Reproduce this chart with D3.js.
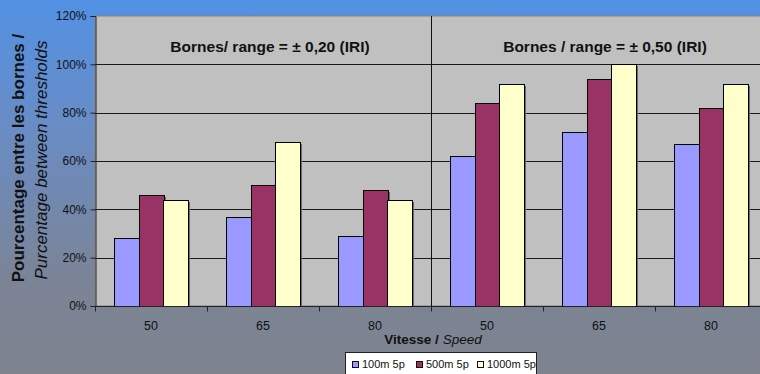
<!DOCTYPE html>
<html>
<head>
<meta charset="utf-8">
<script src="https://cdn.jsdelivr.net/npm/d3@7"></script>
<style>
  html, body { margin: 0; padding: 0; overflow: hidden; }
  svg { display: block; font-family: "Liberation Sans", Arial, sans-serif; }
</style>
</head>
<body>
<svg id="chart" width="760" height="374"></svg>
<script>
// Speed categories (two threshold groups of three speeds each)
const categories = ["50", "65", "80", "50 ", "65 ", "80 "];
const seriesNames = ["100m 5p", "500m 5p", "1000m 5p"];
const values100 = [28, 37, 29, 62, 72, 67];
const values500 = [46, 50, 48, 84, 94, 82];
const values1000 = [44, 68, 44, 92, 100, 92];
const yTicks = [0, 20, 40, 60, 80, 100, 120];
const rangeLabels = ["Bornes/ range = \u00b1 0,20 (IRI)", "Bornes / range = \u00b1 0,50 (IRI)"];

const seriesValues = [values100, values500, values1000];
const colors = ["#9999ff", "#993366", "#ffffcc"];

const svg = d3.select("#chart");
const W = 760, H = 374;
const m = { left: 95, right: 767, top: 16, bottom: 306 };

// Background gradient
const defs = svg.append("defs");
const grad = defs.append("linearGradient").attr("id", "bg")
  .attr("x1", 0).attr("y1", 0).attr("x2", 0).attr("y2", 1);
grad.append("stop").attr("offset", "0%").attr("stop-color", "#5291e4");
grad.append("stop").attr("offset", "35%").attr("stop-color", "#6a8cc4");
grad.append("stop").attr("offset", "75%").attr("stop-color", "#7b8496");
grad.append("stop").attr("offset", "100%").attr("stop-color", "#7e838e");
svg.append("rect").attr("width", W).attr("height", H).attr("fill", "url(#bg)");

defs.append("clipPath").attr("id", "plotclip").append("rect")
  .attr("x", m.left).attr("y", m.top).attr("width", m.right - m.left).attr("height", m.bottom - m.top);

const x0 = d3.scaleBand().domain(categories).range([m.left, m.right]).padding(0);
const step = x0.bandwidth();
const gap = step * 1.5 / 4.5;
const x1 = d3.scaleBand().domain(d3.range(3)).range([gap / 2, step - gap / 2]).padding(0);
const y = d3.scaleLinear().domain([0, 120]).range([m.bottom, m.top]);

// Plot area
svg.append("rect").attr("x", m.left).attr("y", m.top)
  .attr("width", m.right - m.left).attr("height", m.bottom - m.top)
  .attr("fill", "#c0c0c0").attr("stroke", "#808080").attr("stroke-width", 1);

// Gridlines
svg.append("g").selectAll("line").data(yTicks.filter(t => t > 0 && t < 120)).join("line")
  .attr("x1", m.left).attr("x2", m.right)
  .attr("y1", d => Math.round(y(d)) + 0.5).attr("y2", d => Math.round(y(d)) + 0.5)
  .attr("stroke", "#1a1a1a").attr("stroke-width", 1);

// Divider between the two threshold groups
const divX = Math.round(x0(categories[3])) + 0.5;
svg.append("line").attr("x1", divX).attr("x2", divX).attr("y1", m.top).attr("y2", m.bottom)
  .attr("stroke", "#111").attr("stroke-width", 1);

// Bars with a drop shadow
const barData = [];
categories.forEach((c, i) => {
  seriesValues.forEach((vals, s) => barData.push({ c, s, v: vals[i] }));
});
const bars = svg.append("g").attr("clip-path", "url(#plotclip)");
bars.selectAll("rect.shadow").data(barData).join("rect").attr("class", "shadow")
  .attr("x", d => Math.round(x0(d.c) + x1(d.s)) + 2)
  .attr("y", d => Math.round(y(d.v)) + 2)
  .attr("width", Math.round(x1.bandwidth()))
  .attr("height", d => m.bottom - Math.round(y(d.v)))
  .attr("fill", "#6b6b6b");
bars.selectAll("rect.bar").data(barData).join("rect").attr("class", "bar")
  .attr("x", d => Math.round(x0(d.c) + x1(d.s)) + 0.5)
  .attr("y", d => Math.round(y(d.v)) + 0.5)
  .attr("width", Math.round(x1.bandwidth()))
  .attr("height", d => m.bottom - Math.round(y(d.v)))
  .attr("fill", d => colors[d.s]).attr("stroke", "#000").attr("stroke-width", 1);

// Y axis
const yAxis = svg.append("g").attr("transform", `translate(${m.left + 0.5},0)`)
  .call(d3.axisLeft(y).tickValues(yTicks).tickFormat(d => d + "%").tickSize(5).tickPadding(4));
yAxis.select(".domain").attr("stroke", "#222");
yAxis.selectAll(".tick line").attr("stroke", "#222");
yAxis.selectAll(".tick text").attr("font-size", 12).attr("fill", "#111")
  .attr("font-family", "Liberation Sans, Arial, sans-serif");

// X axis: ticks at category boundaries, labels centred
const xAxisG = svg.append("g").attr("transform", `translate(0,${m.bottom + 0.5})`);
xAxisG.append("line").attr("x1", m.left).attr("x2", m.right).attr("stroke", "#222");
const bounds = categories.map(c => x0(c)).concat([m.right]);
xAxisG.selectAll("line.tk").data(bounds).join("line").attr("class", "tk")
  .attr("x1", d => Math.round(d) + 0.5).attr("x2", d => Math.round(d) + 0.5)
  .attr("y1", 0).attr("y2", 5).attr("stroke", "#222");
xAxisG.selectAll("text").data(categories).join("text")
  .attr("x", d => x0(d) + step / 2).attr("y", 23.5)
  .attr("text-anchor", "middle").attr("font-size", 12.5).attr("fill", "#111")
  .text(d => d.trim());

// Range annotations
const annX = [x0(categories[1]) + step / 2 + 7, x0(categories[4]) + step / 2 + 6];
svg.selectAll("text.ann").data(rangeLabels).join("text").attr("class", "ann")
  .attr("x", (d, i) => annX[i]).attr("y", 52)
  .attr("text-anchor", "middle").attr("font-size", 15.5).attr("font-weight", "bold")
  .attr("fill", "#111").text(d => d);

// Axis titles
const ytitle = svg.append("g").attr("transform", `translate(0,${(m.top + m.bottom) / 2 - 3}) rotate(-90)`);
ytitle.append("text").attr("x", 0).attr("y", 24).attr("text-anchor", "middle")
  .attr("font-size", 17).attr("font-weight", "bold").attr("fill", "#111")
  .text("Pourcentage entre les bornes /");
ytitle.append("text").attr("x", -2).attr("y", 47).attr("text-anchor", "middle")
  .attr("font-size", 17).attr("font-style", "italic").attr("fill", "#111")
  .text("Purcentage between thresholds");

const xtitle = svg.append("text").attr("x", (m.left + m.right) / 2 + 2).attr("y", 344)
  .attr("text-anchor", "middle").attr("font-size", 13.5).attr("fill", "#111");
xtitle.append("tspan").attr("font-weight", "bold").text("Vitesse / ");
xtitle.append("tspan").attr("font-style", "italic").text("Speed");

// Legend
const lg = svg.append("g");
lg.append("rect").attr("x", 345.5).attr("y", 352.5).attr("width", 191).attr("height", 30)
  .attr("fill", "#fff").attr("stroke", "#222");
const lgX = [352, 416, 477];
seriesNames.forEach((n, i) => {
  lg.append("rect").attr("x", lgX[i] + 0.5).attr("y", 361.5).attr("width", 6).attr("height", 6)
    .attr("fill", colors[i]).attr("stroke", "#111");
  lg.append("text").attr("x", lgX[i] + 10).attr("y", 368).attr("font-size", 11)
    .attr("fill", "#111").text(n);
});
</script>
</body>
</html>
